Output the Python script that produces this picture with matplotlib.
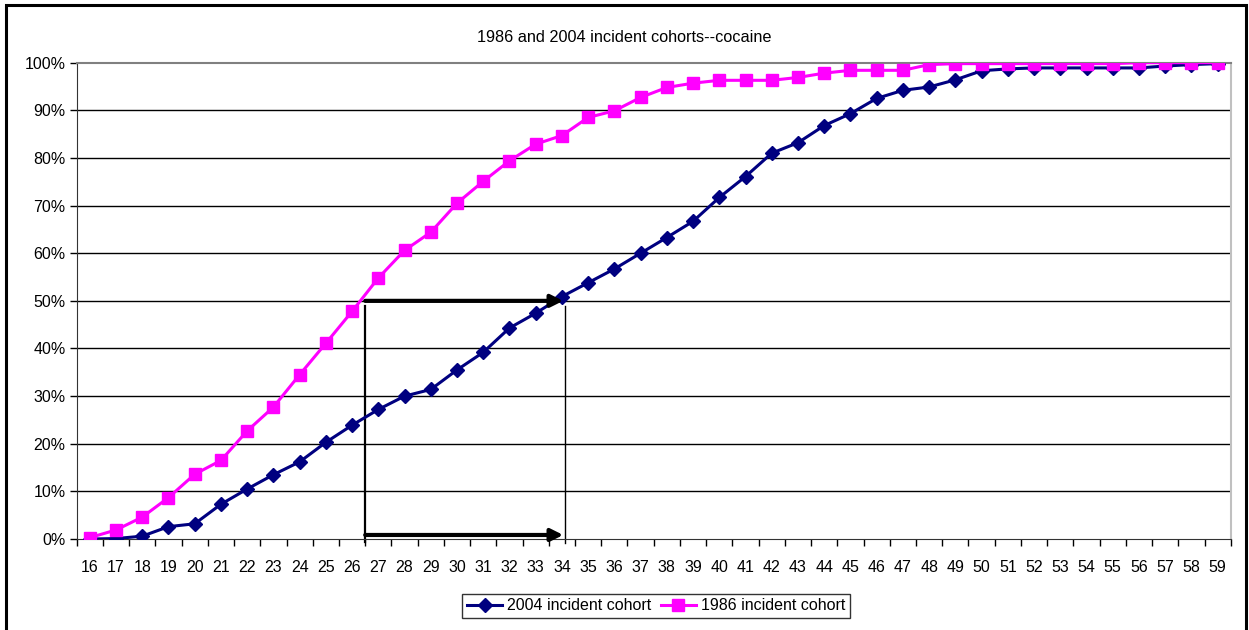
#Cumulative age of first cocaine use
#1986 vs 2004 incident cohorts

#1. LIBRARIES

import matplotlib
matplotlib.use('Agg')
import matplotlib.pyplot as plt
from matplotlib.patches import Rectangle
from matplotlib.ticker import PercentFormatter, MultipleLocator
import numpy as np

plt.rcParams['font.family'] = ['Liberation Sans', 'DejaVu Sans']

#2. DATA (cumulative %, by age)

ages = list(range(16, 60))

cohort_2004 = [0.0, 0.1, 0.6, 2.6, 3.2, 7.3, 10.5, 13.5, 16.2, 20.3,
               23.9, 27.2, 30.0, 31.4, 35.5, 39.2, 44.3, 47.4, 50.9, 53.8,
               56.7, 60.0, 63.3, 66.7, 71.7, 76.1, 81.0, 83.2, 86.8, 89.3,
               92.5, 94.2, 94.9, 96.4, 98.3, 98.7, 98.9, 98.9, 98.9, 98.9,
               98.9, 99.3, 99.6, 99.8]

cohort_1986 = [0.3, 1.9, 4.6, 8.7, 13.6, 16.5, 22.7, 27.7, 34.5, 41.1,
               47.8, 54.8, 60.6, 64.4, 70.5, 75.1, 79.4, 82.9, 84.7, 88.5,
               89.9, 92.7, 94.8, 95.7, 96.3, 96.3, 96.3, 96.9, 97.8, 98.4,
               98.4, 98.4, 99.6, 99.8, 99.8, 99.8, 99.8, 99.8, 99.8, 99.8,
               100.0, 100.0, 100.0, 100.0]

#median shift: age where each cohort reaches 50%
shift_from = 26.5
shift_to = 34.05
shift_level = 50

#3. FIGURE

fig = plt.figure(figsize=(12.49, 6.30), dpi=100)
ax = fig.add_axes([0.0614, 0.1444, 0.9240, 0.7561])

Lw = 2.2

ax.plot(ages, cohort_2004, color='#000080', linewidth=Lw, marker='D',
        markersize=7.5, label='2004 incident cohort', zorder=3)
ax.plot(ages, cohort_1986, color='#FF00FF', linewidth=Lw, marker='s',
        markersize=8.5, label='1986 incident cohort', zorder=4)

ax.set_xlim(15.5, 59.5)
ax.set_ylim(0, 100)

#axes: category ticks between labels
ax.set_xticks(ages)
ax.set_xticklabels([str(a) for a in ages])
ax.set_xticks(np.arange(15.5, 60, 1), minor=True)
ax.tick_params(axis='x', which='major', length=0, pad=15, labelsize=11.5)
ax.tick_params(axis='x', which='minor', length=5, width=1, direction='out')
ax.yaxis.set_major_locator(MultipleLocator(10))
ax.yaxis.set_major_formatter(PercentFormatter(decimals=0))
ax.tick_params(axis='y', length=5, width=1, direction='out', labelsize=11.5, pad=3)

for y in range(10, 100, 10):
    ax.axhline(y, color='black', linewidth=1, zorder=1)

ax.spines['top'].set_color('#808080')
ax.spines['top'].set_linewidth(1.5)
ax.spines['right'].set_color('#C0C0C0')
ax.spines['right'].set_linewidth(1.5)
ax.spines['left'].set_color('#333333')
ax.spines['bottom'].set_color('#333333')

#4. MEDIAN SHIFT ARROWS

ax.plot([shift_from, shift_from], [-0.6, 48.9], color='black', linewidth=1.6,
        clip_on=False, zorder=2)
ax.plot([shift_to + 0.08, shift_to + 0.08], [-0.8, 48.9], color='black',
        linewidth=1.0, clip_on=False, zorder=2)

arrow = dict(arrowstyle='-|>', color='black', linewidth=3,
             mutation_scale=18, shrinkA=0, shrinkB=0)
ax.annotate('', xy=(shift_to, shift_level), xytext=(shift_from, shift_level),
            arrowprops=arrow, zorder=5)
ax.annotate('', xy=(shift_to, 0.85), xytext=(shift_from, 0.85),
            arrowprops=arrow, zorder=5)

#5. TITLE, LEGEND AND FRAME

fig.text(0.5, 1 - 38 / 630, '1986 and 2004 incident cohorts--cocaine',
         ha='center', va='center', fontsize=11.7)

leg = fig.legend(loc='center', bbox_to_anchor=(656 / 1249, 1 - 606 / 630),
                 ncol=2, fontsize=11.5, frameon=True, fancybox=False,
                 handlelength=2.2, handletextpad=0.3, columnspacing=0.6,
                 borderpad=0.3, borderaxespad=0)
leg.get_frame().set_edgecolor('black')
leg.get_frame().set_linewidth(1)

fig.patches.append(Rectangle((6 / 1249, -0.05), 1240 / 1249, 1.05 - 5 / 630,
                             transform=fig.transFigure, fill=False,
                             edgecolor='black', linewidth=2.2))

plt.savefig('out.png', dpi=100)
